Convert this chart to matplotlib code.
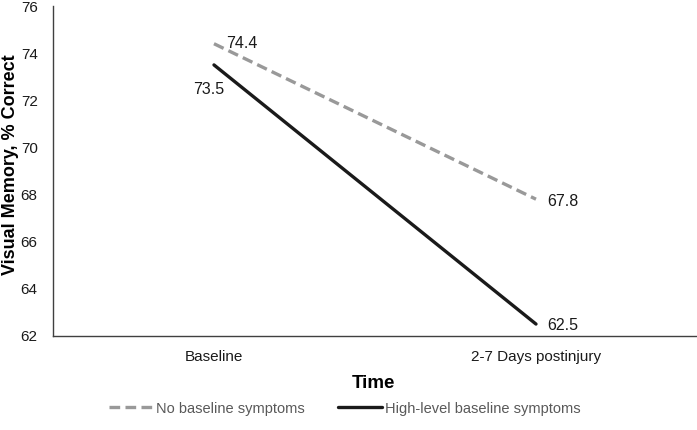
import matplotlib.pyplot as plt

plt.rcParams['font.family'] = ['Liberation Sans', 'DejaVu Sans']

# Data
time_points = ["Baseline", "2-7 Days postinjury"]
no_symptoms = [74.4, 67.8]
high_symptoms = [73.5, 62.5]
y_ticks = [62, 64, 66, 68, 70, 72, 74, 76]

fig = plt.figure(figsize=(6.97, 4.30), dpi=100)
ax = fig.add_axes([0.076, 0.219, 0.924, 0.767])

x = range(len(time_points))
l1, = ax.plot(x, no_symptoms, color='#999999', lw=2.4, linestyle=(0, (3.2, 1.6)),
              label='No baseline symptoms')
l2, = ax.plot(x, high_symptoms, color='#1a1a1a', lw=2.4, solid_capstyle='round',
              label='High-level baseline symptoms')

# point labels
lab = dict(textcoords='offset points', va='center', fontsize=11.5, color='#1a1a1a')
ax.annotate(f"{no_symptoms[0]}", (0, no_symptoms[0]), xytext=(9, 0), ha='left', **lab)
ax.annotate(f"{high_symptoms[0]}", (0, high_symptoms[0]), xytext=(-4, -18), ha='center', **lab)
ax.annotate(f"{no_symptoms[1]}", (1, no_symptoms[1]), xytext=(8, -2), ha='left', **lab)
ax.annotate(f"{high_symptoms[1]}", (1, high_symptoms[1]), xytext=(8, -1), ha='left', **lab)

ax.set_xlim(-0.5, 1.5)
ax.set_ylim(62, 76)
ax.set_yticks(y_ticks)
ax.set_xticks(list(x))
ax.set_xticklabels(time_points)
ax.tick_params(length=0, labelsize=11, colors='#1a1a1a')
ax.tick_params(axis='x', pad=10)
ax.tick_params(axis='y', pad=11)

for s in ['top', 'right']:
    ax.spines[s].set_visible(False)
for s in ['left', 'bottom']:
    ax.spines[s].set_color('#404040')
    ax.spines[s].set_linewidth(1.0)

ax.set_xlabel("Time", fontsize=13.5, fontweight='bold')
ax.xaxis.set_label_coords(0.497, -0.12)
ax.set_ylabel("Visual Memory, % Correct", fontsize=13, fontweight='bold')
ax.yaxis.set_label_coords(-0.053, 0.52)

fig.legend(handles=[l1, l2], loc='center', bbox_to_anchor=(0.495, 0.05), ncol=2,
           frameon=False, fontsize=10.5, labelcolor='#595959', handlelength=3.0,
           handletextpad=0.2, columnspacing=2.3)

fig.savefig("out.png", dpi=100)
